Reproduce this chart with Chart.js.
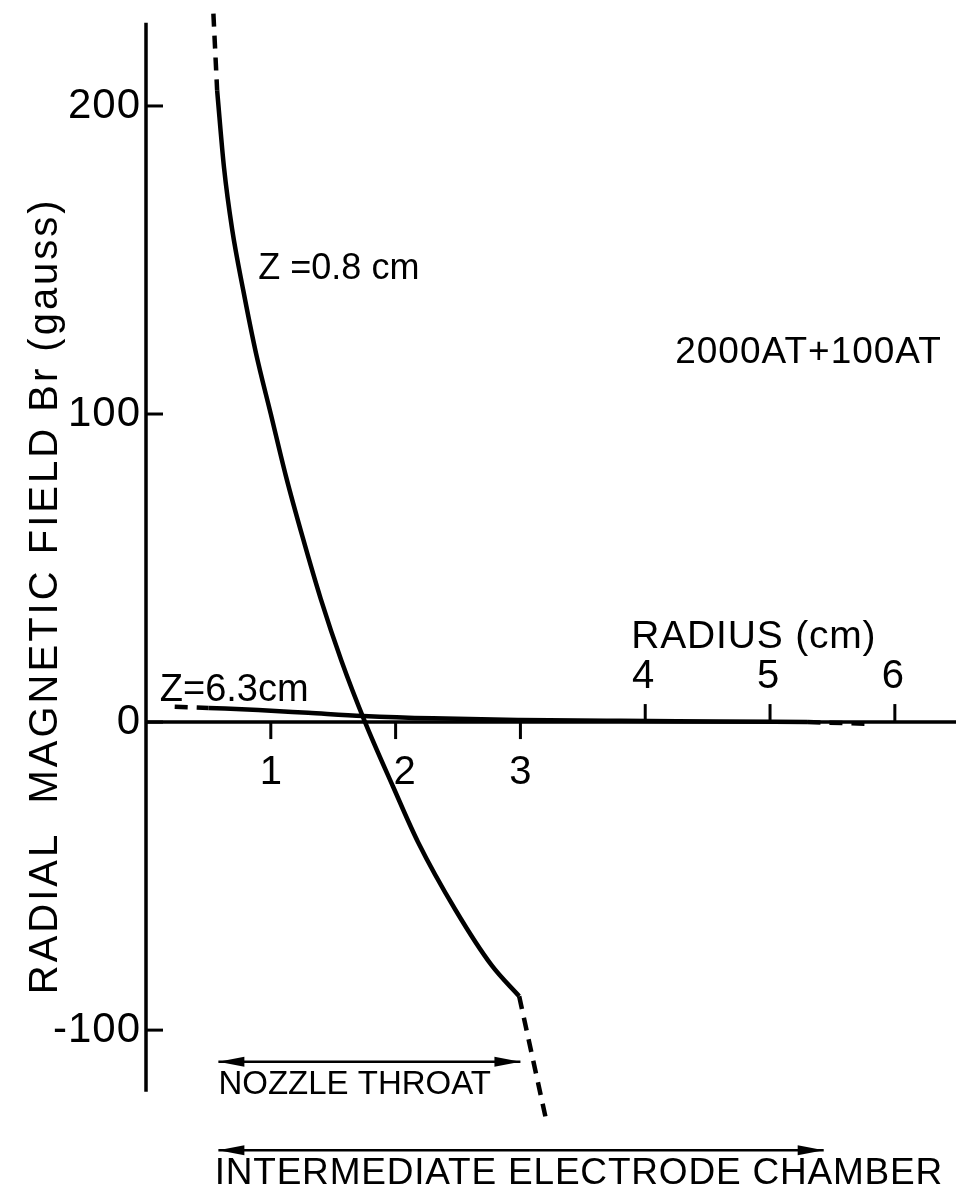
<!DOCTYPE html>
<html lang="en">
  <head>
    <meta charset="UTF-8" />
    <title>Radial magnetic field vs radius</title>
    <script src="https://cdn.jsdelivr.net/npm/chart.js@4.4.0/dist/chart.umd.min.js"></script>
    <style>
      body { margin: 0; background: #fff; }
      canvas { display: block; }
    </style>
  </head>
  <body>
    <canvas id="chart" width="956" height="1198"></canvas>
    <script>
      // Z = 0.8 cm curve (dashed ends, solid middle)
      const z08TopR = [0.54, 0.57]
      const z08TopB = [230, 205]
      const z08R = [0.57, 0.625, 0.69, 0.78, 0.88, 1.00, 1.12, 1.255, 1.40, 1.565, 1.755, 1.98, 2.18, 2.48, 2.77, 2.99]
      const z08B = [205, 180, 160, 140, 120, 100, 80, 60, 40, 20, 0, -21, -39, -61, -79, -89]
      const z08EndR = [2.99, 3.20]
      const z08EndB = [-89, -128]

      // Z = 6.3 cm curve
      const z63StartR = [0.23, 0.50]
      const z63StartB = [5.0, 4.6]
      const z63R = [0.50, 0.9, 1.3, 1.74, 2.3, 3.0, 3.8, 4.6, 5.3]
      const z63B = [4.6, 3.9, 3.0, 2.0, 1.2, 0.7, 0.4, 0.2, 0.0]
      const z63EndR = [5.3, 5.8]
      const z63EndB = [0.0, -0.6]

      const yTicks = [200, 100, 0, -100]
      const xTicksBelow = [1, 2, 3]
      const xTicksAbove = [4, 5, 6]

      const FONT = '"Liberation Sans", Arial, sans-serif'

      function pts(xs, ys) {
        return xs.map((x, i) => ({ x: x, y: ys[i] }))
      }

      function curve(xs, ys, dashed) {
        return {
          data: pts(xs, ys),
          showLine: true,
          borderColor: '#000',
          borderWidth: 4.5,
          borderDash: dashed ? [13, 9] : [],
          pointRadius: 0,
          cubicInterpolationMode: 'monotone',
          fill: false,
        }
      }

      function arrow(ctx, x1, x2, y) {
        ctx.beginPath()
        ctx.moveTo(x1, y)
        ctx.lineTo(x2, y)
        ctx.stroke()
        ctx.beginPath()
        ctx.moveTo(x1, y)
        ctx.lineTo(x1 + 26, y - 5)
        ctx.lineTo(x1 + 26, y + 5)
        ctx.closePath()
        ctx.fill()
        ctx.beginPath()
        ctx.moveTo(x2, y)
        ctx.lineTo(x2 - 26, y - 5)
        ctx.lineTo(x2 - 26, y + 5)
        ctx.closePath()
        ctx.fill()
      }

      function text(ctx, str, x, y, size, spacing) {
        ctx.font = size + 'px ' + FONT
        ctx.letterSpacing = (spacing || 0) + 'px'
        ctx.fillText(str, x, y)
      }

      const axesPlugin = {
        id: 'axes',
        afterDatasetsDraw(chart) {
          const ctx = chart.ctx
          const xs = chart.scales.x
          const ys = chart.scales.y
          const x0 = xs.getPixelForValue(0)
          const y0 = ys.getPixelForValue(0)
          ctx.save()
          ctx.strokeStyle = '#000'
          ctx.fillStyle = '#000'
          ctx.lineWidth = 3.5

          // axis lines
          ctx.beginPath()
          ctx.moveTo(x0, ys.getPixelForValue(227))
          ctx.lineTo(x0, ys.getPixelForValue(-120))
          ctx.moveTo(x0, y0)
          ctx.lineTo(chart.chartArea.right, y0)
          ctx.stroke()

          // y ticks
          ctx.lineWidth = 3
          ctx.textAlign = 'right'
          ctx.textBaseline = 'middle'
          yTicks.forEach((v) => {
            const py = ys.getPixelForValue(v)
            ctx.beginPath()
            ctx.moveTo(x0, py)
            ctx.lineTo(x0 + 17, py)
            ctx.stroke()
            text(ctx, String(v), x0 - 5, py, 42, 1)
          })

          // x ticks
          ctx.textAlign = 'center'
          xTicksBelow.forEach((v) => {
            const px = xs.getPixelForValue(v)
            ctx.beginPath()
            ctx.moveTo(px, y0)
            ctx.lineTo(px, y0 + 17)
            ctx.stroke()
            text(ctx, String(v), px + (v === 2 ? 9 : 0), ys.getPixelForValue(-16.5), 40, 0)
          })
          xTicksAbove.forEach((v) => {
            const px = xs.getPixelForValue(v)
            ctx.beginPath()
            ctx.moveTo(px, y0)
            ctx.lineTo(px, y0 - 18)
            ctx.stroke()
            text(ctx, String(v), px - 2, ys.getPixelForValue(14.5), 40, 0)
          })

          // axis titles
          text(ctx, 'RADIUS (cm)', xs.getPixelForValue(4.87), ys.getPixelForValue(27.6), 39, 0.8)
          ctx.save()
          ctx.translate(x0 - 100, ys.getPixelForValue(41))
          ctx.rotate(-Math.PI / 2)
          text(ctx, 'RADIAL  MAGNETIC FIELD Br (gauss)', 0, 0, 40, 3)
          ctx.restore()

          // curve labels
          ctx.textAlign = 'left'
          text(ctx, 'Z =0.8 cm', xs.getPixelForValue(0.9), ys.getPixelForValue(147), 36, 0)
          text(ctx, 'Z=6.3cm', xs.getPixelForValue(0.11), ys.getPixelForValue(10.4), 38, 0)
          text(ctx, '2000AT+100AT', xs.getPixelForValue(4.24), ys.getPixelForValue(120), 37, 1)

          // range arrows
          ctx.lineWidth = 2.5
          arrow(ctx, xs.getPixelForValue(0.58), xs.getPixelForValue(3.0), ys.getPixelForValue(-110.3))
          text(ctx, 'NOZZLE THROAT', xs.getPixelForValue(0.58), ys.getPixelForValue(-117.8), 33, 0)
          arrow(ctx, xs.getPixelForValue(0.58), xs.getPixelForValue(5.43), ys.getPixelForValue(-139))
          text(ctx, 'INTERMEDIATE ELECTRODE CHAMBER', xs.getPixelForValue(0.55), ys.getPixelForValue(-146.5), 37, 0.8)
          ctx.restore()
        },
      }

      const config = {
        type: 'scatter',
        data: {
          datasets: [
            curve(z08TopR, z08TopB, true),
            curve(z08R, z08B, false),
            curve(z08EndR, z08EndB, true),
            curve(z63StartR, z63StartB, true),
            curve(z63R, z63B, false),
            curve(z63EndR, z63EndB, true),
          ],
        },
        options: {
          responsive: false,
          animation: false,
          layout: { padding: { left: 146, right: 0, top: 0, bottom: 0 } },
          scales: {
            x: { type: 'linear', min: 0, max: 6.49, display: false },
            y: { type: 'linear', min: -154.5, max: 234.4, display: false },
          },
          plugins: {
            legend: { display: false },
            tooltip: { enabled: false },
          },
        },
        plugins: [axesPlugin],
      }

      const chart = new Chart(document.getElementById('chart'), config)
    </script>
  </body>
</html>
